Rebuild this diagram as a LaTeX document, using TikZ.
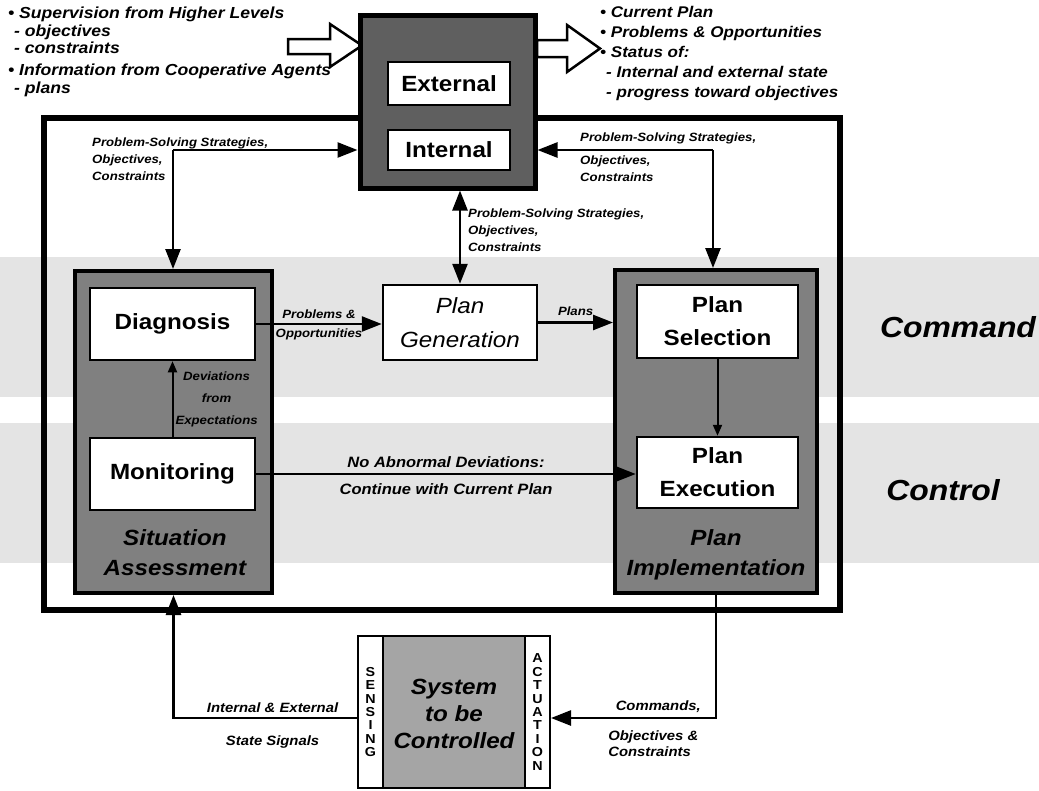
\documentclass[tikz,border=0pt]{standalone}
\usepackage{fontspec}
\setmainfont{Liberation Sans}[FakeStretch=1.1]
\usetikzlibrary{positioning,calc,arrows.meta}
\definecolor{TopGray}{RGB}{95,95,95}
\definecolor{PanelGray}{RGB}{128,128,128}
\definecolor{SysGray}{RGB}{165,165,165}
\definecolor{BandGray}{RGB}{228,228,228}
\tikzset{
  blk/.style={draw=black,fill=white,line width=2.5pt,inner sep=0pt,align=center,
    font=\fontsize{22}{33}\selectfont\bfseries},
  panel/.style={draw=black,fill=PanelGray,line width=4pt,inner sep=0pt},
  ptitle/.style={align=center,inner sep=0pt,font=\fontsize{22}{30}\selectfont\bfseries\itshape},
  col/.style={draw=black,fill=white,line width=2pt,inner sep=0pt,align=center,
    minimum width=25pt,minimum height=152pt,font=\fontsize{13}{13.4}\selectfont\bfseries},
  level/.style={inner sep=0pt,font=\fontsize{29}{31}\selectfont\bfseries\itshape},
  toptxt/.style={inner sep=0pt,align=left,font=\fontsize{16}{17.5}\selectfont\bfseries\itshape},
  lbl/.style={inner sep=2pt,font=\fontsize{12}{17}\selectfont\bfseries\itshape},
  midlbl/.style={inner sep=5pt,font=\fontsize{15}{16}\selectfont\bfseries\itshape},
  botlbl/.style={inner sep=4pt,font=\fontsize{13.5}{16}\selectfont\bfseries\itshape},
  conn/.style={draw=black,line width=2.5pt,-{Triangle[length=20pt,width=15pt]}},
  sconn/.style={draw=black,line width=2pt,-{Triangle[length=11pt,width=9pt]}},
  hollow/.style={draw=black,fill=white,line width=2.5pt,line join=miter},
}

\begin{document}
\begin{tikzpicture}[x=1pt,y=-1pt]
\useasboundingbox (0,0) rectangle (1039,790);
% command and control levels
\fill[BandGray] (0,257) rectangle (1039,397);
\fill[BandGray] (0,423) rectangle (1039,563);
\node[level] (cmd) at (958,327) {Command};
\node[level] (ctl) at (943,490) {Control};
% outer frame
\draw[line width=6pt] (44,118) rectangle (840,610);
% hollow arrows in and out
\draw[hollow] (288,39) -- (330,39) -- (330,24) -- (362,45.5) -- (330,67) -- (330,54) -- (288,54) -- cycle;
\draw[hollow] (537,40) -- (567,40) -- (567,25) -- (600,48.5) -- (567,72) -- (567,57) -- (537,57) -- cycle;
% top box
\node[panel,fill=TopGray,line width=5pt,minimum width=175pt,minimum height=173pt] (top) at (447.5,101.5) {};
\node[blk,minimum width=122pt,minimum height=43pt] (ext) at (449,83.5) {External};
\node[blk,minimum width=122pt,minimum height=40pt] (int) at (449,150) {Internal};
% texts round the top box
\node[toptxt,anchor=north west] (sup) at (8,7) {\textbullet\ Supervision from Higher Levels\\
  \hspace*{6pt}- objectives\\ \hspace*{6pt}- constraints\\[4.5pt]
  \textbullet\ Information from Cooperative Agents\\ \hspace*{6pt}- plans};
\node[toptxt,anchor=north west,font=\fontsize{15.5}{20}\selectfont\bfseries\itshape] (stat) at (600,6) {\textbullet\ Current Plan\\
  \textbullet\ Problems \& Opportunities\\ \textbullet\ Status of:\\
  \hspace*{6pt}- Internal and external state\\ \hspace*{6pt}- progress toward objectives};
% situation assessment
\node[panel,minimum width=197pt,minimum height=322pt] (sa) at (173.5,432) {};
\node[blk,minimum width=165pt,minimum height=72pt] (dia) at (172.5,324) {Diagnosis};
\node[blk,minimum width=165pt,minimum height=72pt] (mon) at (172.5,474) {Monitoring};
\node[ptitle] (satxt) at (175,553) {Situation\\Assessment};
% plan generation
\node[blk,font=\fontsize{22}{34}\selectfont\itshape,minimum width=154pt,minimum height=75pt] (pgen) at (460,322.5) {Plan\\Generation};
% plan implementation
\node[panel,minimum width=202pt,minimum height=323pt] (pi) at (716,431.5) {};
\node[blk,minimum width=161pt,minimum height=73pt] (psel) at (717.5,321.5) {Plan\\Selection};
\node[blk,minimum width=161pt,minimum height=71pt] (pexe) at (717.5,472.5) {Plan\\Execution};
\node[ptitle] (pitxt) at (716,555) {Plan\\Implementation};
% system to be controlled
\node[draw=black,fill=SysGray,line width=2.5pt,minimum width=192pt,minimum height=152pt] (sys) at (454,712) {};
\node[col] (sens) at (370.5,712) {S\\E\\N\\S\\I\\N\\G};
\node[col] (act) at (537.5,712) {A\\C\\T\\U\\A\\T\\I\\O\\N};
\node[ptitle,font=\fontsize{22}{27}\selectfont\bfseries\itshape] (systxt) at (454,714) {System\\to be\\Controlled};
% strategies, objectives, constraints
\coordinate (lj) at (173,150);
\coordinate (rj) at (713,150);
\draw[conn] (lj) -- (lj -| top.west);
\draw[conn] (lj) -- (lj |- sa.north);
\draw[conn] (rj) -- (rj -| top.east);
\draw[conn] (rj) -- (rj |- pi.north);
\draw[conn,{Triangle[length=20pt,width=15pt]}-{Triangle[length=20pt,width=15pt]}] (pgen.north |- top.south) -- (pgen.north);
\node[lbl,anchor=north west,align=left] (lpss) at (90,136) {Problem-Solving Strategies,\\Objectives,\\Constraints};
\node[lbl,anchor=north west,align=left] (rpss) at (578,131) {Problem-Solving Strategies,\\[6pt]Objectives,\\Constraints};
\node[lbl,anchor=north west,align=left] (cpss) at (466,207) {Problem-Solving Strategies,\\Objectives,\\Constraints};
% flow between the boxes
\draw[conn] (dia.east) -- node[lbl,above,inner sep=4pt]{Problems \&} node[lbl,below,inner sep=4pt]{Opportunities} (dia.east -| pgen.west);
\draw[conn] (pgen.east) -- node[lbl,above,inner sep=6pt]{Plans} (pgen.east -| pi.west);
\draw[conn] (mon.east) -- node[midlbl,above]{No Abnormal Deviations:} node[midlbl,below,inner sep=8pt]{Continue with Current Plan} (mon.east -| pexe.west);
\draw[sconn] (mon.north) -- node[lbl,right,align=center,font=\fontsize{12}{22}\selectfont\bfseries\itshape]{Deviations\\from\\Expectations} (dia.south);
\draw[sconn] (psel.south) -- (pexe.north);
% loop through the system
\coordinate (lp) at (454,718);
\draw[conn] (pi.south) |- node[botlbl,above,pos=0.675]{Commands,}
  node[botlbl,below right,pos=0.83,align=left,inner sep=0pt,yshift=-11pt]{Objectives \&\\Constraints} (lp -| act.east);
\draw[conn] (lp -| sens.west) -| node[botlbl,above,pos=0.23]{Internal \& External}
  node[botlbl,below,pos=0.23,inner sep=16pt]{State Signals} (sa.south);
\end{tikzpicture}
\end{document}
